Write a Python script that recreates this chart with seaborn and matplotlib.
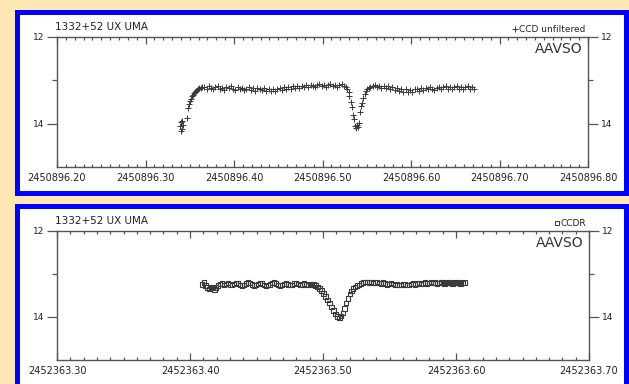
import matplotlib
matplotlib.use("Agg")
import matplotlib.pyplot as plt
from matplotlib.patches import Rectangle
from matplotlib.ticker import MultipleLocator, FixedLocator, FormatStrFormatter
import seaborn as sns
import pandas as pd

# ---------------- data ----------------
STAR = "1332+52 UX UMA"
JD_BASE_1 = 2450896.0
JD_BASE_2 = 2452363.0
BAND_1 = "CCD unfiltered"
BAND_2 = "CCDR"
XTICKS_1 = [2450896.20, 2450896.30, 2450896.40, 2450896.50, 2450896.60, 2450896.70, 2450896.80]
XTICKS_2 = [2452363.30, 2452363.40, 2452363.50, 2452363.60, 2452363.70]
YTICKS = [12, 14]

t1 = [0.3390, 0.3398, 0.3402, 0.3410, 0.3418, 0.3425, 0.3470, 0.3480, 0.3492, 0.3500,
      0.3510, 0.3522, 0.3535, 0.3548, 0.3560, 0.3572, 0.3585, 0.3598, 0.3610, 0.3625,
      0.3640, 0.3665, 0.3690, 0.3715, 0.3740, 0.3765, 0.3790, 0.3815, 0.3840, 0.3865,
      0.3890, 0.3915, 0.3940, 0.3965, 0.3990, 0.4015, 0.4040, 0.4065, 0.4090, 0.4115,
      0.4140, 0.4165, 0.4190, 0.4215, 0.4240, 0.4265, 0.4290, 0.4315, 0.4340, 0.4365,
      0.4390, 0.4415, 0.4440, 0.4465, 0.4490, 0.4515, 0.4540, 0.4565, 0.4590, 0.4615,
      0.4640, 0.4665, 0.4690, 0.4715, 0.4740, 0.4765, 0.4790, 0.4815, 0.4840, 0.4865,
      0.4890, 0.4915, 0.4940, 0.4965, 0.4990, 0.5015, 0.5040, 0.5065, 0.5090, 0.5115,
      0.5140, 0.5165, 0.5190, 0.5215, 0.5240, 0.5260, 0.5280, 0.5295, 0.5305, 0.5318,
      0.5330, 0.5340, 0.5352, 0.5365, 0.5375, 0.5388, 0.5400, 0.5412, 0.5425, 0.5438,
      0.5450, 0.5462, 0.5475, 0.5490, 0.5505, 0.5520, 0.5540, 0.5565, 0.5590, 0.5615,
      0.5640, 0.5665, 0.5690, 0.5715, 0.5740, 0.5765, 0.5790, 0.5815, 0.5840, 0.5865,
      0.5890, 0.5915, 0.5940, 0.5965, 0.5990, 0.6015, 0.6040, 0.6065, 0.6090, 0.6115,
      0.6140, 0.6165, 0.6190, 0.6215, 0.6240, 0.6265, 0.6290, 0.6315, 0.6340, 0.6365,
      0.6390, 0.6415, 0.6440, 0.6465, 0.6490, 0.6515, 0.6540, 0.6565, 0.6590, 0.6615,
      0.6640, 0.6665, 0.6690, 0.6715]
mag1 = [14.06, 14.18, 13.97, 14.12, 13.93, 14.02, 13.86, 13.63, 13.55, 13.47,
        13.42, 13.36, 13.33, 13.29, 13.27, 13.24, 13.22, 13.20, 13.18, 13.17,
        13.16, 13.15, 13.19, 13.13, 13.17, 13.21, 13.15, 13.14, 13.20, 13.17,
        13.22, 13.15, 13.18, 13.14, 13.20, 13.22, 13.16, 13.21, 13.17, 13.23,
        13.19, 13.16, 13.22, 13.18, 13.24, 13.17, 13.21, 13.23, 13.18, 13.25,
        13.20, 13.24, 13.19, 13.25, 13.21, 13.18, 13.22, 13.16, 13.20, 13.15,
        13.19, 13.14, 13.18, 13.13, 13.17, 13.12, 13.16, 13.11, 13.15, 13.10,
        13.14, 13.16, 13.11, 13.09, 13.14, 13.10, 13.15, 13.11, 13.09, 13.14,
        13.10, 13.15, 13.11, 13.09, 13.13, 13.15, 13.19, 13.27, 13.35, 13.50,
        13.62, 13.80, 13.90, 14.06, 14.10, 14.03, 14.08, 13.98, 13.74, 13.60,
        13.52, 13.40, 13.32, 13.25, 13.20, 13.17, 13.15, 13.14, 13.11, 13.16,
        13.12, 13.17, 13.13, 13.18, 13.14, 13.20, 13.16, 13.22, 13.18, 13.24,
        13.20, 13.26, 13.21, 13.27, 13.22, 13.26, 13.21, 13.19, 13.24, 13.18,
        13.22, 13.17, 13.21, 13.16, 13.20, 13.22, 13.17, 13.15, 13.20, 13.16,
        13.14, 13.19, 13.15, 13.20, 13.16, 13.14, 13.19, 13.15, 13.20, 13.16,
        13.14, 13.19, 13.16, 13.19]

t2 = [0.4090, 0.4105, 0.4118, 0.4130, 0.4143, 0.4156, 0.4170, 0.4183, 0.4196, 0.4210,
      0.4225, 0.4240, 0.4255, 0.4270, 0.4285, 0.4300, 0.4315, 0.4330, 0.4345, 0.4360,
      0.4375, 0.4390, 0.4405, 0.4420, 0.4435, 0.4450, 0.4465, 0.4480, 0.4495, 0.4510,
      0.4525, 0.4540, 0.4555, 0.4570, 0.4585, 0.4600, 0.4615, 0.4630, 0.4645, 0.4660,
      0.4675, 0.4690, 0.4705, 0.4720, 0.4735, 0.4750, 0.4765, 0.4780, 0.4795, 0.4810,
      0.4825, 0.4840, 0.4855, 0.4870, 0.4885, 0.4900, 0.4915, 0.4930, 0.4945, 0.4960,
      0.4975, 0.4990, 0.5005, 0.5020, 0.5035, 0.5050, 0.5065, 0.5080, 0.5095, 0.5110,
      0.5123, 0.5136, 0.5149, 0.5162, 0.5175, 0.5188, 0.5201, 0.5214, 0.5227, 0.5240,
      0.5255, 0.5270, 0.5285, 0.5300, 0.5315, 0.5330, 0.5345, 0.5360, 0.5375, 0.5390,
      0.5405, 0.5420, 0.5435, 0.5450, 0.5465, 0.5480, 0.5495, 0.5510, 0.5525, 0.5540,
      0.5555, 0.5570, 0.5585, 0.5600, 0.5615, 0.5630, 0.5645, 0.5660, 0.5675, 0.5690,
      0.5705, 0.5720, 0.5735, 0.5750, 0.5765, 0.5780, 0.5795, 0.5810, 0.5825, 0.5840,
      0.5855, 0.5870, 0.5885, 0.5900, 0.5915, 0.5930, 0.5945, 0.5960, 0.5975, 0.5990,
      0.6005, 0.6020, 0.6035, 0.6050, 0.6065]
mag2 = [13.24, 13.20, 13.27, 13.31, 13.35, 13.33, 13.30, 13.36, 13.31, 13.27,
        13.23, 13.22, 13.25, 13.23, 13.21, 13.24, 13.26, 13.23, 13.21, 13.22,
        13.25, 13.27, 13.25, 13.22, 13.20, 13.21, 13.24, 13.27, 13.26, 13.23,
        13.21, 13.22, 13.25, 13.28, 13.26, 13.24, 13.21, 13.20, 13.22, 13.25,
        13.27, 13.26, 13.23, 13.22, 13.24, 13.26, 13.25, 13.22, 13.21, 13.23,
        13.25, 13.24, 13.22, 13.24, 13.26, 13.25, 13.23, 13.24, 13.27, 13.30,
        13.34, 13.38, 13.45, 13.52, 13.60, 13.68, 13.77, 13.85, 13.93, 13.99,
        14.02, 13.98, 13.90, 13.80, 13.68, 13.57, 13.47, 13.40, 13.34, 13.30,
        13.27, 13.25, 13.22, 13.20, 13.19, 13.18, 13.20, 13.19, 13.21, 13.20,
        13.19, 13.21, 13.22, 13.20, 13.22, 13.24, 13.23, 13.21, 13.23, 13.25,
        13.24, 13.26, 13.25, 13.23, 13.24, 13.26, 13.25, 13.23, 13.22, 13.24,
        13.22, 13.21, 13.23, 13.22, 13.20, 13.22, 13.21, 13.19, 13.21, 13.20,
        13.22, 13.21, 13.19, 13.20, 13.22, 13.21, 13.19, 13.20, 13.22, 13.21,
        13.19, 13.20, 13.22, 13.21, 13.20]

# ---------------- figure ----------------
sns.set_style("ticks")
plt.rcParams["font.family"] = ["DejaVu Sans"]

W, H = 629, 384
BEIGE = "#FDE7B4"
BLUE = "#0000FF"
INK = "#222222"
AXC = "#555555"
MARK = "#3a3a3a"

fig = plt.figure(figsize=(W / 100, H / 100), dpi=100, facecolor=BEIGE)

def px_rect(x0, y0, x1, y1):
    return (x0 / W, 1 - y1 / H, (x1 - x0) / W, (y1 - y0) / H)

# panel frames (white with blue border)
for (x0, y0, x1, y1) in [(16.5, 11.5, 625.5, 192.5), (16.5, 205.5, 625.5, 395)]:
    l, b, w, h = px_rect(x0, y0, x1, y1)
    fig.patches.append(Rectangle((l, b), w, h, transform=fig.transFigure,
                                 facecolor="white", edgecolor=BLUE, linewidth=3.6,
                                 zorder=-10))

ax1 = fig.add_axes(px_rect(57, 37, 588, 167))
ax2 = fig.add_axes(px_rect(57, 231, 589, 360))

df1 = pd.DataFrame({"jd": [JD_BASE_1 + v for v in t1], "mag": mag1})
df2 = pd.DataFrame({"jd": [JD_BASE_2 + v for v in t2], "mag": mag2})

sns.scatterplot(data=df1, x="jd", y="mag", ax=ax1, marker="+", s=20,
                color=MARK, linewidth=0.7, legend=False)
sns.scatterplot(data=df2, x="jd", y="mag", ax=ax2, marker="s", s=10,
                facecolor="none", edgecolor=MARK, linewidth=0.8,
                legend=False)

def style(ax, xticks, marker, band, msize):
    ax.set_facecolor("white")
    ax.set_xlim(xticks[0], xticks[-1])
    ax.set_ylim(15, 12)
    ax.set_xlabel("")
    ax.set_ylabel("")
    ax.xaxis.set_major_locator(FixedLocator(xticks))
    ax.xaxis.set_minor_locator(MultipleLocator(0.01))
    ax.xaxis.set_major_formatter(FormatStrFormatter("%.2f"))
    ax.yaxis.set_major_locator(FixedLocator(YTICKS))
    ax.yaxis.set_minor_locator(FixedLocator([13]))
    for s in ax.spines.values():
        s.set_visible(True)
        s.set_color(AXC)
        s.set_linewidth(1.0)
    ax.tick_params(axis="x", which="both", direction="in", top=True, bottom=True,
                   colors=AXC, labelcolor=INK, labelsize=7, width=0.9, pad=4)
    ax.tick_params(axis="x", which="major", length=5)
    ax.tick_params(axis="x", which="minor", length=2.5)
    ax.tick_params(axis="y", which="both", direction="out", left=True, right=True,
                   labelleft=True, labelright=True, colors=AXC, labelcolor=INK,
                   labelsize=6.5, width=0.9, pad=2)
    ax.tick_params(axis="y", which="major", length=7)
    ax.tick_params(axis="y", which="minor", length=3.5)
    ax.text(-0.003, 1.035, STAR, transform=ax.transAxes, ha="left", va="bottom",
            fontsize=7.5, color=INK)
    ax.text(0.99, 0.96, "AAVSO", transform=ax.transAxes, ha="right", va="top",
            fontsize=10, color="#333333")
    leg = ax.legend(handles=[plt.Line2D([], [], marker=marker, linestyle="none",
                                        color=MARK, markerfacecolor="none",
                                        markersize=msize, markeredgewidth=0.7)],
                    labels=[band], loc="lower right", bbox_to_anchor=(1.0, 1.0),
                    frameon=False, fontsize=6.5, handlelength=0.6,
                    handletextpad=0.15, borderpad=0.1, borderaxespad=0.2)
    for tx in leg.get_texts():
        tx.set_color(INK)

style(ax1, XTICKS_1, "+", BAND_1, 5)
style(ax2, XTICKS_2, "s", BAND_2, 3)

fig.savefig("out.png", dpi=100, facecolor=BEIGE)
